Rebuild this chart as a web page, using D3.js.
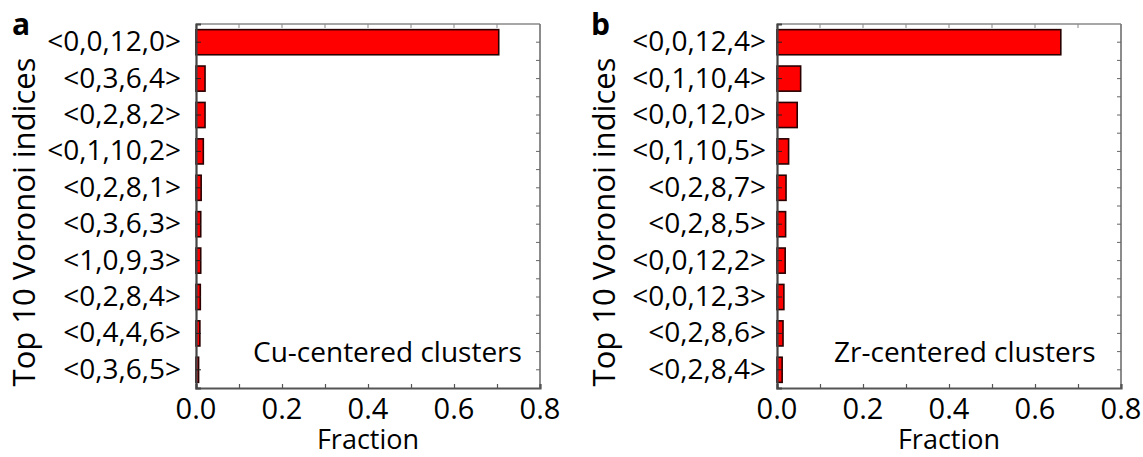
<!DOCTYPE html>
<html>
<head>
<meta charset="utf-8">
<script src="https://cdn.jsdelivr.net/npm/d3@7"></script>
<style>
    body { margin: 0; background: #fff; }
    svg text { font-family: "Open Sans", "Noto Sans", sans-serif; fill: #000; }
</style>
</head>
<body>
<svg id="chart" width="1143" height="457"></svg>
<script>
// Cu-centered clusters (panel a)
const cuIndices = ['<0,0,12,0>', '<0,3,6,4>', '<0,2,8,2>', '<0,1,10,2>', '<0,2,8,1>',
                   '<0,3,6,3>', '<1,0,9,3>', '<0,2,8,4>', '<0,4,4,6>', '<0,3,6,5>'];
const cuFractions = [0.704, 0.021, 0.021, 0.017, 0.012, 0.011, 0.011, 0.010, 0.009, 0.006];

// Zr-centered clusters (panel b)
const zrIndices = ['<0,0,12,4>', '<0,1,10,4>', '<0,0,12,0>', '<0,1,10,5>', '<0,2,8,7>',
                   '<0,2,8,5>', '<0,0,12,2>', '<0,0,12,3>', '<0,2,8,6>', '<0,2,8,4>'];
const zrFractions = [0.660, 0.055, 0.047, 0.027, 0.021, 0.020, 0.019, 0.016, 0.014, 0.012];

const xTicks = [0, 0.2, 0.4, 0.6, 0.8];
const xMinorTicks = [0, 0.1, 0.2, 0.3, 0.4, 0.5, 0.6, 0.7, 0.8];

const svg = d3.select('#chart');

// Draw one panel
function drawPanel(opts) {
    const { letter, cats, vals, label, left, right, top, bottom, labelGap, titleX } = opts;

    const x = d3.scaleLinear().domain([0, 0.8]).range([left, right]);
    const y = d3.scaleBand().domain(cats).range([top, bottom])
        .paddingInner(0.31).paddingOuter(0.155);

    const g = svg.append('g');

    // bars
    g.selectAll('rect.bar')
        .data(cats)
        .enter().append('rect')
        .attr('class', 'bar')
        .attr('x', x(0))
        .attr('y', d => y(d))
        .attr('width', (d, i) => x(vals[i]) - x(0))
        .attr('height', y.bandwidth())
        .attr('fill', '#ff0000')
        .attr('stroke', '#2a0000')
        .attr('stroke-width', 1.6);

    // top and right frame
    g.append('line')
        .attr('x1', left).attr('x2', right).attr('y1', top).attr('y2', top)
        .attr('stroke', '#888').attr('stroke-width', 1.5);
    g.append('line')
        .attr('x1', right).attr('x2', right).attr('y1', top).attr('y2', bottom)
        .attr('stroke', '#666').attr('stroke-width', 1.5);

    // top ticks (inward)
    g.selectAll('line.ttick')
        .data(xMinorTicks)
        .enter().append('line')
        .attr('x1', d => x(d)).attr('x2', d => x(d))
        .attr('y1', top).attr('y2', top + 4)
        .attr('stroke', '#888').attr('stroke-width', 1);

    // right ticks (inward, at centers and band edges)
    const rightTicks = [];
    cats.forEach(c => {
        rightTicks.push(y(c) + y.bandwidth() / 2);
        rightTicks.push(y(c) + y.bandwidth() / 2 + y.step() / 2);
    });
    g.selectAll('line.rtick')
        .data(rightTicks.filter(v => v < bottom - 2))
        .enter().append('line')
        .attr('x1', right).attr('x2', right - 4)
        .attr('y1', d => d).attr('y2', d => d)
        .attr('stroke', '#666').attr('stroke-width', 1);

    // bottom axis
    const xAxis = g.append('g')
        .attr('transform', `translate(0,${bottom})`)
        .call(d3.axisBottom(x).tickValues(xMinorTicks).tickSize(-4).tickFormat(''));
    xAxis.select('.domain').attr('stroke', '#555').attr('stroke-width', 2.2);
    xAxis.selectAll('.tick line').attr('stroke', '#555').attr('stroke-width', 1.2);

    g.selectAll('text.xlab')
        .data(xTicks)
        .enter().append('text')
        .attr('class', 'xlab')
        .attr('x', d => x(d))
        .attr('y', bottom + 31)
        .attr('text-anchor', 'middle')
        .style('font-size', '29px')
        .text(d3.format('.1f'));

    // left axis
    const yAxis = g.append('g')
        .attr('transform', `translate(${left},0)`)
        .call(d3.axisLeft(y).tickSize(-5).tickPadding(labelGap + 5));
    yAxis.select('.domain').attr('stroke', '#444').attr('stroke-width', 2.2);
    yAxis.selectAll('.tick line').attr('stroke', '#222').attr('stroke-width', 1);
    yAxis.selectAll('.tick text')
        .style('font-size', '28px')
        .style('font-family', '"Open Sans", sans-serif')
        .attr('fill', '#000');

    // axis titles
    g.append('text')
        .attr('x', (left + right) / 2)
        .attr('y', bottom + 61)
        .attr('text-anchor', 'middle')
        .style('font-size', '27px')
        .text('Fraction');

    g.append('text')
        .attr('transform', `translate(${titleX},222) rotate(-90)`)
        .attr('text-anchor', 'middle')
        .style('font-size', '31px')
        .text('Top 10 Voronoi indices');

    // in-plot annotation
    g.append('text')
        .attr('x', left + 57)
        .attr('y', bottom - 26)
        .style('font-size', '28px')
        .text(label);

    // panel letter
    g.append('text')
        .attr('x', opts.letterX)
        .attr('y', 35)
        .style('font-size', '30px')
        .style('font-weight', 'bold')
        .text(letter);
}

drawPanel({
    letter: 'a', letterX: 12, cats: cuIndices, vals: cuFractions,
    label: 'Cu-centered clusters',
    left: 196, right: 540, top: 24, bottom: 388, labelGap: 10, titleX: 35
});

drawPanel({
    letter: 'b', letterX: 591, cats: zrIndices, vals: zrFractions,
    label: 'Zr-centered clusters',
    left: 777, right: 1121, top: 24, bottom: 388, labelGap: 6, titleX: 615
});
</script>
</body>
</html>
